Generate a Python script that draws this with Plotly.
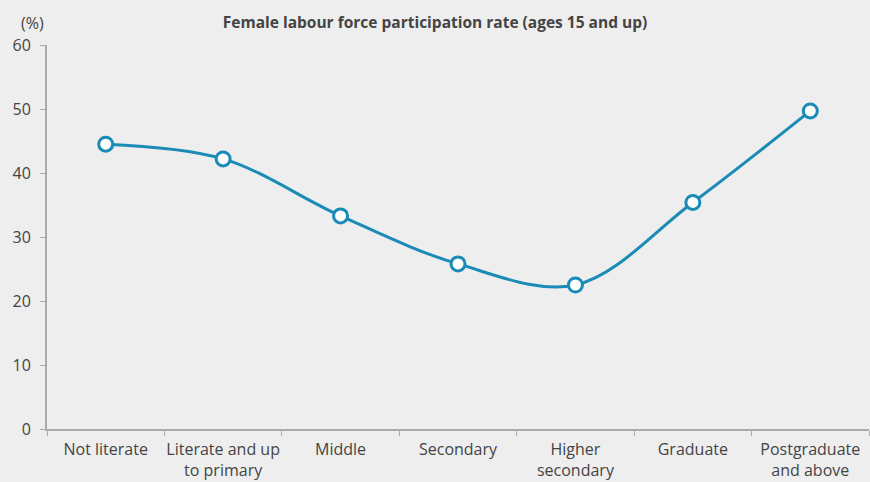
import plotly.graph_objects as go

categories = ["Not literate", "Literate and up<br>to primary", "Middle", "Secondary",
              "Higher<br>secondary", "Graduate", "Postgraduate<br>and above"]
values = [44.5, 42.2, 33.3, 25.8, 22.5, 35.4, 49.7]
y_ticks = [0, 10, 20, 30, 40, 50, 60]

color = "#1a8bb6"
font = "'Open Sans', Roboto, sans-serif"

fig = go.Figure()
fig.add_trace(go.Scatter(
    x=categories, y=values, mode="lines+markers",
    line=dict(color=color, width=3, shape="spline", smoothing=1.0),
    marker=dict(size=14, color="white", line=dict(color=color, width=3)),
    cliponaxis=False, showlegend=False, hoverinfo="x+y",
))

fig.update_layout(
    width=870, height=482,
    paper_bgcolor="#eeeeee", plot_bgcolor="#eeeeee",
    margin=dict(l=47, r=1, t=45, b=53),
    font=dict(family=font, size=16, color="#444444"),
    title=dict(text="<b>Female labour force participation rate (ages 15 and up)</b>",
               x=0.5, xanchor="center", y=1 - 23 / 482, yanchor="middle",
               font=dict(size=15.5, color="#444444", family=font)),
    annotations=[dict(text="(%)", xref="paper", yref="paper", x=-28 / 822, y=1 + 22 / 384,
                      xanchor="left", yanchor="middle", showarrow=False,
                      font=dict(size=16, color="#444444"))],
)
fig.update_xaxes(
    type="category", showgrid=False, showline=True, linecolor="#aaaaaa", linewidth=2,
    ticks="outside", tickson="boundaries", ticklen=5, tickcolor="#aaaaaa", tickwidth=1,
    range=[-0.5, 6.5], tickfont=dict(size=16), ticklabelstandoff=5, tickangle=0,
    automargin=False,
)
fig.update_yaxes(
    range=[0, 60], tickvals=y_ticks, showgrid=False, zeroline=False, showline=True,
    linecolor="#aaaaaa", linewidth=2, ticks="outside", ticklen=5, tickcolor="#aaaaaa",
    tickwidth=1, tickfont=dict(size=16), ticklabelstandoff=6, automargin=False,
)

fig.write_html("out.html", config={"displayModeBar": False},
               post_script="document.body.style.margin='0';document.body.style.overflow='hidden';")
